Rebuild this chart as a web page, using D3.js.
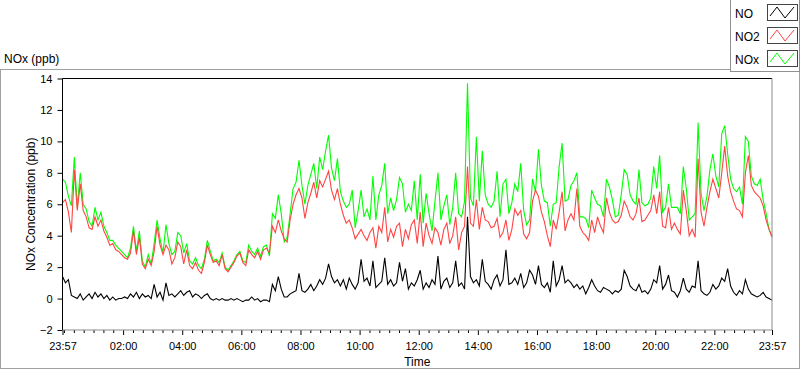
<!DOCTYPE html>
<html>
<head>
<meta charset="utf-8">
<script src="https://cdn.jsdelivr.net/npm/d3@7"></script>
<style>
  body { margin: 0; background: #fff; }
  svg { display: block; font-family: "Liberation Sans", Arial, sans-serif; }
  .tick text { font-size: 11px; fill: #000; }
  .tick line { stroke: #000; }
</style>
</head>
<body>
<div id="chart"></div>
<script>
/* NOx chart, LabVIEW style */

// one value every 6 minutes, 23:57 -> 23:57 next day (one row = one hour)
const noxValues = [
  7.6, 7.4, 6.5, 5.9, 9.0, 5.8, 8.0, 6.0, 5.7, 4.9,
  4.6, 5.8, 5.0, 5.5, 4.6, 4.2, 3.7, 3.7, 3.4, 3.2,
  3.0, 2.8, 2.6, 3.2, 4.6, 3.0, 4.3, 2.4, 2.0, 2.8,
  2.2, 3.5, 5.0, 3.8, 2.9, 4.7, 3.5, 2.8, 3.0, 4.2,
  4.0, 2.9, 3.5, 2.4, 2.2, 2.6, 2.1, 1.9, 2.5, 3.7,
  3.0, 2.4, 2.5, 2.3, 2.9, 2.0, 1.8, 2.1, 2.4, 2.8,
  3.0, 2.4, 2.3, 3.4, 3.0, 2.8, 3.2, 2.7, 3.3, 3.4,
  2.7, 5.4, 5.1, 6.6, 5.4, 3.6, 3.9, 5.4, 7.0, 7.4,
  8.8, 7.2, 6.0, 7.2, 7.9, 8.6, 7.0, 9.0, 8.2, 9.4,
  10.4, 8.3, 7.5, 8.9, 6.8, 6.2, 5.8, 6.0, 6.9, 4.5,
  5.6, 6.9, 5.2, 5.7, 5.0, 7.8, 5.0, 6.6, 7.2, 8.6,
  5.4, 6.4, 5.6, 6.3, 7.7, 7.3, 5.5, 6.0, 5.6, 7.5,
  5.0, 7.9, 4.8, 6.7, 5.4, 4.3, 6.2, 8.0, 5.0, 5.9,
  6.6, 4.7, 5.8, 8.0, 5.4, 5.2, 6.2, 13.7, 6.4, 5.9,
  10.3, 6.2, 9.4, 6.6, 6.0, 5.8, 6.2, 8.1, 5.2, 7.3,
  7.6, 5.4, 6.1, 7.3, 6.8, 8.6, 5.6, 4.7, 5.0, 7.6,
  6.8, 9.5, 7.2, 6.2, 6.1, 4.6, 6.0, 6.1, 8.4, 9.9,
  6.2, 6.3, 7.2, 7.5, 8.0, 5.2, 5.2, 5.1, 4.5, 6.9,
  6.4, 6.0, 5.9, 5.2, 7.6, 7.1, 6.3, 5.2, 5.3, 6.6,
  8.2, 7.9, 6.6, 6.2, 6.0, 8.2, 6.1, 5.9, 6.0, 6.4,
  8.4, 7.0, 9.1, 5.5, 5.8, 7.3, 5.8, 5.8, 5.8, 5.4,
  8.4, 7.0, 5.0, 5.2, 5.4, 11.2, 6.7, 5.6, 6.5, 8.2,
  9.2, 7.8, 7.1, 10.5, 11.0, 9.2, 7.6, 7.0, 6.8, 7.1,
  6.0, 10.3, 10.0, 7.8, 7.3, 7.2, 7.6, 6.3, 5.4, 4.4,
  4.0
];

const no2Values = [
  6.1, 6.3, 5.5, 4.2, 8.2, 5.6, 7.3, 5.6, 5.2, 4.5,
  4.4, 5.2, 4.6, 5.0, 4.3, 3.9, 3.4, 3.5, 3.1, 3.0,
  2.8, 2.6, 2.5, 2.9, 4.3, 2.8, 3.9, 2.2, 1.9, 2.5,
  2.1, 3.0, 4.6, 3.4, 2.8, 3.4, 3.1, 2.2, 2.6, 3.6,
  3.3, 2.2, 3.1, 2.1, 1.9, 2.3, 1.8, 1.6, 2.3, 3.4,
  2.8, 2.3, 2.4, 2.1, 2.8, 1.9, 1.7, 2.0, 2.3, 2.7,
  2.9, 2.3, 2.1, 3.1, 2.8, 2.6, 3.0, 2.5, 3.1, 3.2,
  2.9, 4.6, 4.2, 5.0, 4.3, 3.8, 3.6, 5.0, 6.0, 6.6,
  7.0, 6.4, 5.1, 6.1, 6.7, 7.4, 6.4, 7.5, 7.1, 7.6,
  8.1, 6.9, 6.3, 7.0, 6.0, 5.3, 4.8, 5.0, 4.5, 3.8,
  4.1, 4.4, 4.0, 3.7, 4.2, 4.5, 3.2, 4.6, 4.2, 5.8,
  3.6, 4.4, 3.9, 4.6, 4.8, 3.3, 4.4, 3.8, 4.7, 5.0,
  3.5, 5.5, 3.3, 4.8, 4.0, 3.5, 4.5, 4.2, 3.4, 4.4,
  4.8, 3.5, 4.0, 5.2, 3.1, 4.2, 4.6, 8.4, 4.8, 4.6,
  6.3, 4.4, 5.8, 5.0, 4.9, 4.5, 4.6, 5.1, 3.9, 4.2,
  5.0, 3.7, 4.4, 5.7, 5.3, 5.6, 4.1, 3.8, 4.2, 6.2,
  6.9, 6.5, 5.5, 4.9, 4.0, 3.3, 5.0, 4.4, 5.5, 6.8,
  4.3, 5.0, 5.4, 5.0, 7.0, 4.6, 4.2, 4.0, 3.7, 5.0,
  4.2, 5.2, 4.6, 4.2, 6.4, 5.5, 5.0, 4.8, 4.9, 5.3,
  6.2, 5.8, 5.2, 5.0, 5.4, 6.4, 4.9, 5.0, 5.3, 5.6,
  6.6, 5.4, 6.8, 4.6, 4.5, 5.8, 4.4, 4.8, 4.4, 4.1,
  6.9, 5.6, 4.0, 4.4, 3.9, 8.9, 5.5, 4.6, 5.8, 6.8,
  7.6, 7.0, 6.4, 8.0, 9.7, 7.8, 6.8, 6.2, 5.7, 5.6,
  5.2, 8.0, 9.1, 7.2, 6.8, 6.6, 6.4, 5.9, 5.0, 4.4,
  3.9
];

const noValues = [
  1.4, 1.0, 1.2, 0.2, 0.1, 0.0, 0.3, -0.1, 0.1, 0.3,
  0.0, 0.4, 0.1, 0.3, 0.0, 0.2, -0.1, 0.1, -0.1, 0.0,
  0.0, 0.1, 0.0, 0.3, 0.1, 0.4, 0.0, 0.3, 0.1, 0.2,
  0.0, 0.9, 0.1, 0.4, -0.1, 1.0, 0.2, 0.3, 0.1, 0.3,
  0.5, 0.2, 0.4, 0.5, 0.1, 0.3, 0.2, 0.0, 0.2, 0.3,
  0.0, -0.1, 0.0, -0.1, 0.0, -0.1, -0.1, 0.0, -0.1, 0.0,
  -0.1, -0.2, -0.1, -0.1, 0.1, -0.1, 0.0, -0.2, -0.1, -0.1,
  -0.2, 0.9, 0.5, 1.4, 0.6, 0.1, 0.1, 0.3, 0.4, 0.5,
  1.6, 0.5, 0.4, 0.6, 0.9, 0.5, 0.8, 1.2, 0.9, 1.3,
  2.2, 1.4, 1.0, 1.2, 0.8, 1.2, 0.6, 1.3, 0.9, 0.6,
  1.0, 2.5, 1.1, 1.3, 0.8, 2.4, 0.7, 0.9, 1.1, 2.6,
  0.9, 1.2, 0.8, 1.0, 2.3, 1.1, 1.9, 0.6, 1.0, 0.8,
  1.2, 1.8, 0.6, 1.0, 0.7, 1.2, 0.9, 2.7, 0.6, 1.1,
  1.3, 0.7, 1.0, 2.4, 0.8, 1.0, 0.6, 5.2, 1.4, 1.0,
  1.2, 0.8, 2.5, 1.1, 0.9, 0.6, 1.2, 1.5, 0.8, 1.2,
  3.1, 0.9, 1.0, 1.3, 0.9, 1.6, 0.7, 1.0, 1.8, 1.5,
  0.9, 2.1, 0.9, 0.7, 1.0, 0.4, 2.4, 0.8, 1.2, 2.1,
  1.0, 1.2, 1.0, 0.7, 0.9, 0.6, 0.8, 0.3, 0.7, 1.2,
  0.8, 0.5, 0.4, 0.7, 0.6, 0.5, 0.3, 0.5, 0.4, 0.6,
  1.8, 1.4, 0.8, 0.6, 0.5, 0.9, 0.4, 0.5, 0.3, 0.6,
  1.2, 1.0, 2.1, 0.6, 0.9, 1.5, 0.5, 0.4, 0.1, 0.5,
  1.3, 0.6, 0.4, 0.8, 0.7, 2.4, 0.5, 0.3, 0.2, 0.4,
  0.9, 0.6, 0.8, 1.3, 1.1, 1.9, 0.8, 0.4, 0.2, 0.5,
  0.3, 1.2, 0.6, 0.3, 0.2, 0.1, 0.2, 0.4, 0.1, 0.0,
  -0.1
];

const seriesNames = ["NO", "NO2", "NOx"];
const yTicks = [-2, 0, 2, 4, 6, 8, 10, 12, 14];

const startTime = new Date(2016, 0, 1, 23, 57);
const stepMinutes = 6;

const width = 800,
    height = 369,
    margin = ({top: 78.5, right: 28, bottom: 39, left: 62.5});

const svg = d3.select("#chart")
    .append("svg")
    .attr("width", width)
    .attr("height", height);

let endTime = d3.timeMinute.offset(startTime, 24 * 60);

let x = d3.scaleTime()
    .domain([startTime, endTime])
    .range([margin.left, width - margin.right]);

let y = d3.scaleLinear()
    .domain([-2, 14])
    .range([height - margin.bottom, margin.top]);

// outer panel frame
svg.append("rect")
    .attr("x", 0.5).attr("y", 69.5)
    .attr("width", width - 1).attr("height", height - 70)
    .attr("fill", "none")
    .attr("stroke", "#a0a0a0");

svg.append("text")
    .attr("x", 4)
    .attr("y", 63)
    .attr("font-size", 12)
    .text("NOx (ppb)");

// y axis
svg.append("g")
    .attr("transform", `translate(${margin.left},0)`)
    .call(d3.axisLeft(y).tickValues(yTicks).tickSize(5).tickPadding(5).tickSizeOuter(0))
    .call(g => g.select(".domain").remove());

// x axis: majors every 2 h plus both ends, minors every 20 min
let majorTicks = [startTime]
    .concat(d3.timeHour.every(2).range(d3.timeMinute.offset(startTime, 3), endTime).filter(d => d.getHours() != 0))
    .concat([endTime]);
let minorTicks = d3.timeMinute.every(20).range(startTime, endTime)
    .filter(d => !(d.getMinutes() == 0 && d.getHours() % 2 == 0 && d.getHours() != 0));

svg.append("g")
    .attr("transform", `translate(0,${height - margin.bottom})`)
    .call(d3.axisBottom(x).tickValues(minorTicks).tickSize(3).tickFormat(""))
    .call(g => g.select(".domain").remove());

svg.append("g")
    .attr("transform", `translate(0,${height - margin.bottom})`)
    .call(d3.axisBottom(x).tickValues(majorTicks).tickSize(5).tickPadding(7)
        .tickFormat(d3.timeFormat("%H:%M")))
    .call(g => g.select(".domain").remove());

svg.append("text")
    .attr("text-anchor", "middle")
    .attr("x", (margin.left + width - margin.right) / 2)
    .attr("y", 366)
    .attr("font-size", 12)
    .text("Time");

svg.append("text")
    .attr("text-anchor", "middle")
    .attr("transform", `translate(35,${(margin.top + height - margin.bottom) / 2}) rotate(-90)`)
    .attr("font-size", 12)
    .text("NOx Concentration (ppb)");

// data lines (green under red, black on top)
let timeAt = i => d3.timeMinute.offset(startTime, i * stepMinutes);

let line = d3.line()
    .x((d, i) => x(timeAt(i)))
    .y(d => y(d));

let plots = [
    {values: noxValues, color: "#00ff00"},
    {values: no2Values, color: "#ff4444"},
    {values: noValues, color: "#000000"}
];

for (let p of plots) {
    svg.append("path")
        .datum(p.values)
        .attr("d", line)
        .attr("fill", "none")
        .attr("stroke", p.color)
        .attr("stroke-width", 1.1);
}

// plot frame: dark top/left, grey bottom/right
let x0 = margin.left, x1 = width - margin.right, y0 = margin.top, y1 = height - margin.bottom;
svg.append("path")
    .attr("d", `M${x0},${y1}V${y0}H${x1}`)
    .attr("fill", "none").attr("stroke", "#000");
svg.append("path")
    .attr("d", `M${x1},${y0}V${y1}H${x0}`)
    .attr("fill", "none").attr("stroke", "#8c8c8c");

// legend box
let legend = svg.append("g");
legend.append("rect")
    .attr("x", 730.5).attr("y", -1)
    .attr("width", 69).attr("height", 72.5)
    .attr("fill", "#fff")
    .attr("stroke", "#909090");

let swatchColors = ["#000000", "#ff4444", "#00ff00"];

seriesNames.forEach((name, i) => {
    let top = 4 + i * 23;
    legend.append("text")
        .attr("x", 735)
        .attr("y", top + 13.5)
        .attr("font-size", 12)
        .text(name);
    legend.append("rect")
        .attr("x", 767.5).attr("y", top + 0.5)
        .attr("width", 30).attr("height", 16)
        .attr("fill", "#fff")
        .attr("stroke", "#444");
    legend.append("path")
        .attr("d", `M770,${top + 12}L777,${top + 3}L785,${top + 14}L794,${top + 3}`)
        .attr("fill", "none")
        .attr("stroke", swatchColors[i]);
});
</script>
</body>
</html>
